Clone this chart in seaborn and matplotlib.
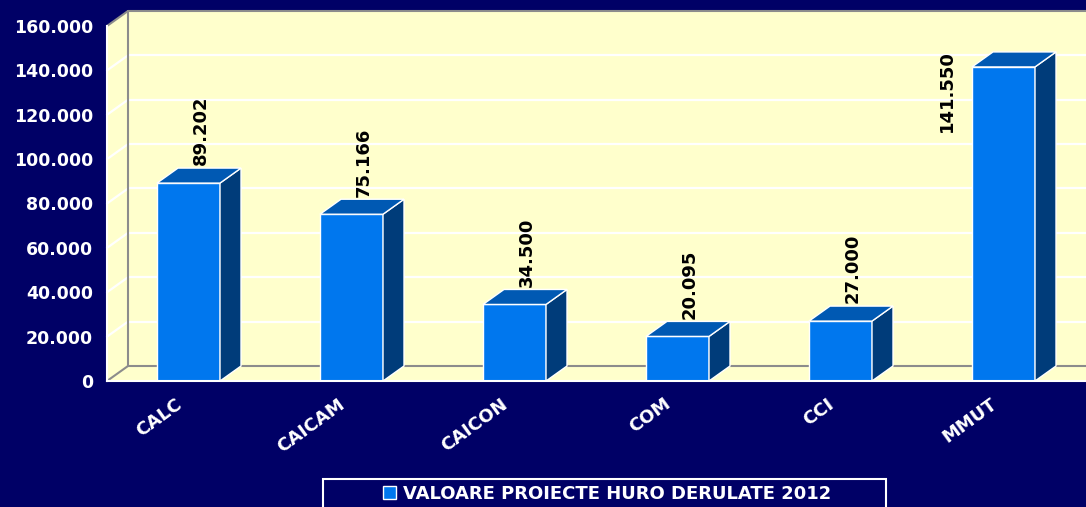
import numpy as np
import pandas as pd
import seaborn as sns
import matplotlib.pyplot as plt
from matplotlib.patches import Polygon, Rectangle, Patch
from matplotlib.transforms import ScaledTranslation

# date
categorii = ['CALC', 'CAICAM', 'CAICON', 'COM', 'CCI', 'MMUT']
valori = [89202, 75166, 34500, 20095, 27000, 141550]
serie = 'VALOARE PROIECTE HURO DERULATE 2012'
y_ticks = [0, 20000, 40000, 60000, 80000, 100000, 120000, 140000, 160000]

# culori
fundal = '#000066'
galben = '#FFFFCC'
fata = '#0077EE'
sus = '#0059B3'
lateral = '#003C7A'
gri = '#8C8C8C'

sns.set_style('white')
plt.rcParams['font.family'] = ['DejaVu Sans']
plt.rcParams['font.weight'] = 'bold'

fig = plt.figure(figsize=(10.86, 5.07), dpi=100, facecolor=fundal)
ax = fig.add_axes([107 / 1086, 126 / 507, 978 / 1086, 355 / 507])
ax.patch.set_visible(False)

ymax = 160000
x0, x1 = -0.5, 5.5
# adancimea 3D in unitati de date
DX = 21 / 163
DY = 15 / 355 * ymax

# pereti
def poly(pts, **kw):
    ax.add_patch(Polygon(pts, closed=True, clip_on=False, **kw))

poly([(x0 + DX, DY), (x1 + DX, DY), (x1 + DX, ymax + DY), (x0 + DX, ymax + DY)],
     facecolor=galben, edgecolor='none', zorder=0)
poly([(x0, 0), (x0 + DX, DY), (x0 + DX, ymax + DY), (x0, ymax)],
     facecolor=galben, edgecolor='none', zorder=0)
poly([(x0, 0), (x1, 0), (x1 + DX, DY), (x0 + DX, DY)],
     facecolor=galben, edgecolor='none', zorder=0)

for t in y_ticks[1:-1]:
    ax.plot([x0 + DX, x1 + DX], [t + DY, t + DY], color='white', lw=1.6, clip_on=False, zorder=1)
    ax.plot([x0, x0 + DX], [t, t + DY], color='white', lw=1.6, clip_on=False, zorder=1)

# margini gri
ax.plot([x0 + DX, x0 + DX], [DY, ymax + DY], color=gri, lw=1.5, clip_on=False, zorder=1)
ax.plot([x0 + DX, x1 + DX], [ymax + DY, ymax + DY], color=gri, lw=1.5, clip_on=False, zorder=1)
ax.plot([x0 + DX, x1 + DX], [DY, DY], color=gri, lw=1.5, clip_on=False, zorder=1)
ax.plot([x0, x0 + DX], [ymax, ymax + DY], color=gri, lw=1.5, clip_on=False, zorder=1)
ax.plot([x0, x0 + DX], [0, DY], color=gri, lw=1.5, clip_on=False, zorder=1)

df = pd.DataFrame({'categorie': categorii, 'valoare': valori})
sns.barplot(data=df, x='categorie', y='valoare', color=fata, width=63 / 163,
            saturation=1, edgecolor='white', linewidth=1, ax=ax, zorder=3)

for i, p in enumerate(ax.containers[0]):
    bx, w, h = p.get_x(), p.get_width(), p.get_height()
    poly([(bx + w, 0), (bx + w + DX, DY), (bx + w + DX, h + DY), (bx + w, h)],
         facecolor=lateral, edgecolor='white', lw=1, zorder=3)
    poly([(bx, h), (bx + DX, h + DY), (bx + w + DX, h + DY), (bx + w, h)],
         facecolor=sus, edgecolor='white', lw=1, zorder=3)
    eticheta = f'{valori[i]:,.0f}'.replace(',', '.')
    cx = bx + w / 2
    if h + DY + 0.2 * ymax > ymax + DY:
        ax.text(cx - 0.345, h + DY + 1000, eticheta, rotation=90, ha='center', va='top',
                fontsize=13, fontweight='bold', color='black', zorder=5)
    else:
        ax.text(cx + DX / 2 + 0.01, h + DY + 1200, eticheta, rotation=90, ha='center', va='bottom',
                fontsize=13, fontweight='bold', color='black', zorder=5)

ax.set_xlim(x0, x1)
ax.set_ylim(0, ymax)
ax.set_xlabel('')
ax.set_ylabel('')

ax.set_yticks(y_ticks)
ax.set_yticklabels([f'{v:,.0f}'.replace(',', '.') for v in y_ticks])
ax.set_xticks(np.arange(x0, x1 + 0.01, 1))
ax.set_xticklabels([])
ax.set_xticks(range(len(categorii)), minor=True)
ax.set_xticklabels(categorii, minor=True, rotation=36, ha='right', rotation_mode='anchor')

ax.tick_params(axis='both', which='major', colors='white', length=6, width=1.5,
               direction='out', labelsize=12.5, pad=4)
ax.tick_params(axis='x', which='minor', length=0, pad=10, labelsize=13, labelcolor='white')
for lbl in ax.get_yticklabels():
    lbl.set_fontweight('bold')
    lbl.set_color('white')
deplasare = ScaledTranslation(-14 / 100, 0, fig.dpi_scale_trans)
for lbl in ax.get_xticklabels(minor=True):
    lbl.set_fontweight('bold')
    lbl.set_color('white')
    lbl.set_transform(lbl.get_transform() + deplasare)

for s in ['top', 'right']:
    ax.spines[s].set_visible(False)
for s in ['left', 'bottom']:
    ax.spines[s].set_color('white')
    ax.spines[s].set_linewidth(1.5)
    ax.spines[s].set_zorder(4)

# legenda
fig.patches.append(Rectangle((323 / 1086, -0.02), 563 / 1086, 28 / 507 + 0.02,
                             transform=fig.transFigure, fill=False,
                             edgecolor='white', lw=1.5))
leg = fig.legend(handles=[Patch(facecolor=fata, edgecolor='white', lw=1)], labels=[serie],
                 loc='center', bbox_to_anchor=(607 / 1086, 1 - 494 / 507),
                 frameon=False, handlelength=0.7, handleheight=0.7, handletextpad=0.4,
                 prop={'size': 13, 'weight': 'bold'})
for t in leg.get_texts():
    t.set_color('white')

plt.savefig('out.png', dpi=100, facecolor=fundal)
